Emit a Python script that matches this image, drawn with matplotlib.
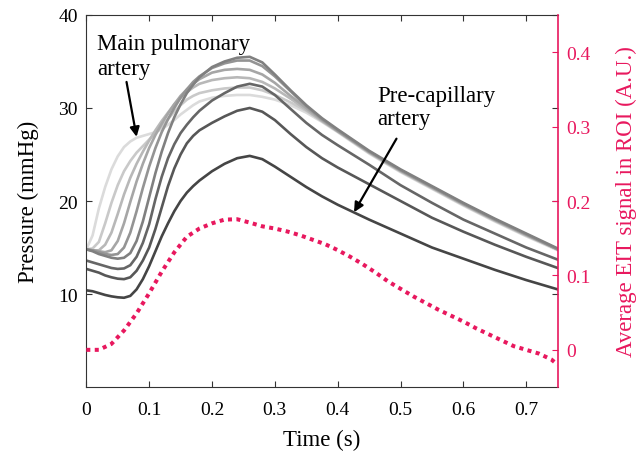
import matplotlib
matplotlib.use("Agg")
import matplotlib.pyplot as plt

plt.rcParams["font.family"] = ["Liberation Serif", "DejaVu Serif"]

# time grid of the pressure curves (s)
t_p = [0, 0.01, 0.02, 0.03, 0.04, 0.05, 0.06, 0.07, 0.08, 0.09, 0.10, 0.11,
       0.12, 0.13, 0.14, 0.15, 0.16, 0.17, 0.18, 0.20, 0.22, 0.24, 0.26, 0.28,
       0.30, 0.325, 0.35, 0.375, 0.40, 0.45, 0.50, 0.55, 0.60, 0.65, 0.70, 0.75]

# pressure (mmHg), from main pulmonary artery (light) to pre-capillary artery (dark)
p0 = [14.8, 16.3, 19.2, 21.5, 23.4, 24.8, 25.8, 26.4, 26.8, 27.0, 27.2, 27.4,
      27.7, 28.2, 28.7, 29.3, 29.8, 30.3, 30.7, 31.1, 31.3, 31.4, 31.4, 31.2,
      30.9, 30.3, 29.5, 28.5, 27.4, 25.1, 23.1, 21.3, 19.5, 17.8, 16.2, 14.7]
p1 = [14.8, 14.9, 15.6, 17.6, 19.8, 21.7, 23.2, 24.3, 25.2, 25.9, 26.6, 27.3,
      28.0, 28.8, 29.6, 30.3, 30.9, 31.3, 31.6, 31.9, 32.1, 32.2, 32.2, 31.9,
      31.4, 30.6, 29.7, 28.6, 27.5, 25.2, 23.2, 21.4, 19.6, 17.9, 16.3, 14.8]
p2 = [14.8, 14.7, 14.7, 15.3, 16.6, 18.6, 20.7, 22.5, 24.0, 25.3, 26.5, 27.6,
      28.6, 29.5, 30.4, 31.1, 31.7, 32.2, 32.6, 33.0, 33.2, 33.3, 33.2, 32.8,
      32.1, 31.0, 29.8, 28.6, 27.5, 25.2, 23.2, 21.4, 19.6, 17.9, 16.3, 14.8]
p3 = [14.8, 14.7, 14.6, 14.5, 14.7, 15.7, 17.6, 19.9, 22.1, 24.0, 25.7, 27.1,
      28.3, 29.4, 30.4, 31.3, 32.0, 32.6, 33.1, 33.8, 34.1, 34.2, 34.1, 33.6,
      32.7, 31.3, 30.0, 28.7, 27.5, 25.3, 23.3, 21.5, 19.7, 18.0, 16.4, 14.8]
p4 = [14.8, 14.7, 14.5, 14.3, 14.2, 14.3, 15.0, 16.6, 18.9, 21.4, 23.7, 25.7,
      27.4, 28.8, 30.0, 31.1, 32.0, 32.8, 33.4, 34.3, 34.8, 35.1, 35.1, 34.5,
      33.4, 31.8, 30.2, 28.8, 27.6, 25.3, 23.3, 21.5, 19.7, 18.0, 16.4, 14.8]
p5 = [14.8, 14.6, 14.3, 14.1, 13.9, 13.8, 13.9, 14.4, 15.7, 17.8, 20.4, 23.0,
      25.3, 27.3, 29.0, 30.4, 31.6, 32.5, 33.3, 34.4, 35.0, 35.4, 35.5, 34.9,
      33.6, 31.9, 30.3, 28.9, 27.7, 25.4, 23.4, 21.6, 19.8, 18.1, 16.5, 14.9]
p6 = [13.6, 13.4, 13.2, 13.0, 12.8, 12.7, 12.75, 13.1, 14.0, 15.5, 17.5, 20.2,
      22.6, 24.6, 26.1, 27.3, 28.2, 29.0, 29.7, 30.8, 31.6, 32.3, 32.6, 32.3,
      31.4, 29.9, 28.4, 27.1, 26.0, 23.9, 21.7, 19.8, 18.0, 16.5, 15.0, 13.7]
p7 = [12.7, 12.5, 12.3, 12.0, 11.8, 11.65, 11.6, 11.8, 12.5, 13.6, 15.0, 17.0,
      19.3, 21.6, 23.5, 25.0, 26.2, 27.0, 27.6, 28.4, 29.1, 29.7, 30.0, 29.6,
      28.7, 27.2, 25.8, 24.6, 23.6, 21.8, 20.0, 18.2, 16.7, 15.3, 14.0, 12.8]
p8 = [10.4, 10.3, 10.1, 9.9, 9.75, 9.65, 9.6, 9.8, 10.5, 11.6, 13.0, 14.6,
      16.2, 17.6, 18.9, 20.0, 20.9, 21.6, 22.2, 23.2, 24.0, 24.6, 24.85, 24.5,
      23.7, 22.6, 21.5, 20.5, 19.6, 18.0, 16.5, 15.0, 13.8, 12.6, 11.5, 10.5]
pressures = [p0, p1, p2, p3, p4, p5, p6, p7, p8]
greys = ["0.86", "0.79", "0.72", "0.65", "0.58", "0.50", "0.40", "0.34", "0.27"]

# average EIT signal in ROI (A.U.)
t_eit = [0, 0.02, 0.04, 0.06, 0.08, 0.10, 0.12, 0.14, 0.16, 0.18, 0.20, 0.22,
         0.24, 0.26, 0.28, 0.30, 0.32, 0.34, 0.36, 0.38, 0.40, 0.42, 0.44, 0.46,
         0.48, 0.50, 0.52, 0.54, 0.56, 0.58, 0.60, 0.62, 0.64, 0.66, 0.68, 0.70,
         0.72, 0.74, 0.75]
eit = [0.0, 0.0, 0.008, 0.026, 0.049, 0.076, 0.105, 0.131, 0.152, 0.163, 0.170,
       0.175, 0.1755, 0.171, 0.166, 0.163, 0.159, 0.154, 0.148, 0.142, 0.134,
       0.125, 0.115, 0.104, 0.092, 0.082, 0.072, 0.063, 0.054, 0.046, 0.038,
       0.029, 0.021, 0.013, 0.005, 0.0, -0.005, -0.013, -0.02]

pink = "#e8185e"
dark = "#333333"

fig = plt.figure(figsize=(6.44, 4.56), dpi=100)
ax = fig.add_axes([0.134, 0.149, 0.732, 0.816])
ax2 = ax.twinx()

for p, g in zip(pressures, greys):
    ax.plot(t_p, p, color=g, lw=1.9, solid_capstyle="round",
            solid_joinstyle="round")

ax2.plot(t_eit, eit, color=pink, lw=2.9, linestyle=(0, (1, 1.1)),
         dash_capstyle="butt")

ax.set_xlim(0, 0.75)
ax.set_ylim(0, 40)
ax2.set_ylim(-0.05, 0.45)
ax.set_xticks([0, 0.1, 0.2, 0.3, 0.4, 0.5, 0.6, 0.7])
ax.set_xticklabels(["0", "0.1", "0.2", "0.3", "0.4", "0.5", "0.6", "0.7"])
ax.set_yticks([10, 20, 30, 40])
ax2.set_yticks([0, 0.1, 0.2, 0.3, 0.4])
ax2.set_yticklabels(["0", "0.1", "0.2", "0.3", "0.4"])

ax.tick_params(direction="in", length=4.5, width=0.8, colors=dark,
               labelsize=14, pad=6, top=True, right=True, labelcolor="black")
ax.tick_params(axis="x", pad=10)
ax2.tick_params(direction="in", length=4.5, width=0.8, colors=pink,
                labelsize=14, pad=6)

for s in ["left", "bottom", "top"]:
    ax.spines[s].set_color(dark)
for s in ["left", "bottom", "top"]:
    ax2.spines[s].set_visible(False)
ax2.spines["right"].set_color(pink)
ax2.spines["right"].set_linewidth(1.2)
ax.spines["right"].set_visible(False)

ax.set_xlabel("Time (s)", fontsize=16.5, labelpad=8)
ax.set_ylabel("Pressure (mmHg)", fontsize=16.5)
ax.yaxis.set_label_coords(-0.100, 0.5)
ax2.set_ylabel("Average EIT signal in ROI (A.U.)", fontsize=16.5, color=pink,
               labelpad=18)

ax.text(0.017, 36.3, "Main pulmonary", fontsize=16.5, va="baseline")
ax.text(0.017, 33.7, "artery", fontsize=16.5, va="baseline")
ax.annotate("", xy=(0.080, 26.9), xytext=(0.064, 32.8),
            arrowprops=dict(arrowstyle="-|>", color="black", lw=1.6,
                            mutation_scale=14, shrinkA=0, shrinkB=0))

ax.text(0.463, 30.8, "Pre-capillary", fontsize=16.5, va="baseline")
ax.text(0.463, 28.3, "artery", fontsize=16.5, va="baseline")
ax.annotate("", xy=(0.426, 18.8), xytext=(0.4935, 26.7),
            arrowprops=dict(arrowstyle="-|>", color="black", lw=1.6,
                            mutation_scale=14, shrinkA=0, shrinkB=0))

fig.savefig("out.png", dpi=100)
